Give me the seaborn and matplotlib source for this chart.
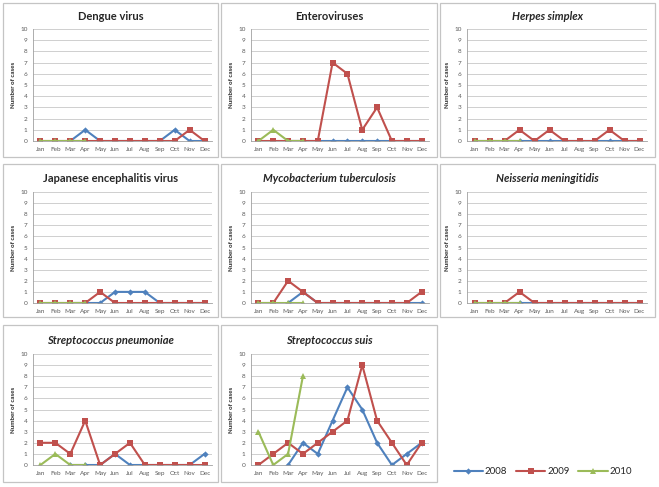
import pandas as pd
import matplotlib.pyplot as plt
from matplotlib.patches import Rectangle
import seaborn as sns

months = ['Jan', 'Feb', 'Mar', 'Apr', 'May', 'Jun', 'Jul', 'Aug', 'Sep', 'Oct', 'Nov', 'Dec']
years = ['2008', '2009', '2010']
# 2008 data starts in March, 2010 data stops in April
start_month = {'2008': 2, '2009': 0, '2010': 0}

dengue = {'2008': [0, 1, 0, 0, 0, 0, 0, 1, 0, 0],
          '2009': [0, 0, 0, 0, 0, 0, 0, 0, 0, 0, 1, 0],
          '2010': [0, 0, 0, 0]}
enterovirus = {'2008': [0, 0, 0, 0, 0, 0, 0, 0, 0, 0],
               '2009': [0, 0, 0, 0, 0, 7, 6, 1, 3, 0, 0, 0],
               '2010': [0, 1, 0, 0]}
herpes = {'2008': [0, 0, 0, 0, 0, 0, 0, 0, 0, 0],
          '2009': [0, 0, 0, 1, 0, 1, 0, 0, 0, 1, 0, 0],
          '2010': [0, 0, 0, 0]}
japanese = {'2008': [0, 0, 0, 1, 1, 1, 0, 0, 0, 0],
            '2009': [0, 0, 0, 0, 1, 0, 0, 0, 0, 0, 0, 0],
            '2010': [0, 0, 0, 0]}
myco = {'2008': [0, 1, 0, 0, 0, 0, 0, 0, 0, 0],
        '2009': [0, 0, 2, 1, 0, 0, 0, 0, 0, 0, 0, 1],
        '2010': [0, 0, 0, 0]}
neisseria = {'2008': [0, 0, 0, 0, 0, 0, 0, 0, 0, 0],
             '2009': [0, 0, 0, 1, 0, 0, 0, 0, 0, 0, 0, 0],
             '2010': [0, 0, 0, 0]}
pneumoniae = {'2008': [0, 0, 0, 1, 0, 0, 0, 0, 0, 1],
              '2009': [2, 2, 1, 4, 0, 1, 2, 0, 0, 0, 0, 0],
              '2010': [0, 1, 0, 0]}
suis = {'2008': [0, 2, 1, 4, 7, 5, 2, 0, 1, 2],
        '2009': [0, 1, 2, 1, 2, 3, 4, 9, 4, 2, 0, 2],
        '2010': [3, 0, 1, 8]}

panels = [
    ('Dengue virus', 'normal', dengue),
    ('Enteroviruses', 'normal', enterovirus),
    ('Herpes simplex', 'italic', herpes),
    ('Japanese encephalitis virus', 'normal', japanese),
    ('Mycobacterium tuberculosis', 'italic', myco),
    ('Neisseria meningitidis', 'italic', neisseria),
    ('Streptococcus pneumoniae', 'italic', pneumoniae),
    ('Streptococcus suis', 'italic', suis),
]

palette = {'2008': '#4F81BD', '2009': '#C0504D', '2010': '#9BBB59'}
markers = {'2008': 'D', '2009': 's', '2010': '^'}
msizes = {'2008': 3.2, '2009': 4.6, '2010': 4.4}


def to_long(d):
    rows = []
    for yr in years:
        for i, v in enumerate(d[yr]):
            rows.append({'month': start_month[yr] + i, 'cases': v, 'year': yr})
    return pd.DataFrame(rows)


sns.set_style("white")
plt.rcParams['font.family'] = ['Lato', 'DejaVu Sans']

W, H = 659, 487
fig = plt.figure(figsize=(W / 100, H / 100), dpi=100)

# panel boxes and plot areas in pixels
col_box = [(3, 218), (221, 437), (440, 655)]
row_box = [(3, 157), (164, 317), (325, 482)]
col_ax = [(33, 212), (251, 429), (467, 647)]
row_ax = [(29, 141), (192, 303), (354, 465)]
title_y = [16, 179, 340]

handles = None
for k, (name, style, d) in enumerate(panels):
    r, c = divmod(k, 3)
    bx0, bx1 = col_box[c]
    by0, by1 = row_box[r]
    fig.patches.append(Rectangle((bx0 / W, 1 - by1 / H), (bx1 - bx0) / W, (by1 - by0) / H,
                                 transform=fig.transFigure, fill=False,
                                 edgecolor='#c4c4c4', lw=0.9))
    ax0, ax1 = col_ax[c]
    ay0, ay1 = row_ax[r]
    ax = fig.add_axes([ax0 / W, 1 - ay1 / H, (ax1 - ax0) / W, (ay1 - ay0) / H])
    df = to_long(d)
    for yr in years:
        sub = df[df['year'] == yr]
        sns.lineplot(data=sub, x='month', y='cases', ax=ax, color=palette[yr],
                     marker=markers[yr], markersize=msizes[yr], markeredgewidth=0,
                     lw=1.5, label=yr)
    if handles is None:
        handles, labels = ax.get_legend_handles_labels()
    ax.get_legend().remove()
    ax.set_xlim(-0.5, 11.5)
    ax.set_ylim(0, 10)
    ax.set_yticks(range(11))
    ax.set_xticks(range(12))
    ax.set_xticklabels(months)
    ax.grid(axis='y', color='#c8c8c8', lw=0.6)
    ax.set_axisbelow(True)
    for s in ['top', 'right']:
        ax.spines[s].set_visible(False)
    for s in ['left', 'bottom']:
        ax.spines[s].set_color('#a0a0a0')
        ax.spines[s].set_linewidth(0.6)
    ax.tick_params(labelsize=4.6, colors='#595959', length=2, width=0.5, pad=2)
    ax.set_xlabel('')
    ax.set_ylabel('Number of cases', fontsize=4.4, fontweight='bold', labelpad=3)
    fig.text(((bx0 + bx1) / 2) / W, 1 - title_y[r] / H, name, ha='center', va='center',
             fontsize=8, fontweight='bold', fontstyle=style)

fig.legend(handles, labels, loc='center left', bbox_to_anchor=(445 / W, 1 - 472 / H),
           ncol=3, frameon=False, fontsize=7, handlelength=3.0, columnspacing=0.9,
           handletextpad=0.2)

fig.savefig('out.png', dpi=100)
